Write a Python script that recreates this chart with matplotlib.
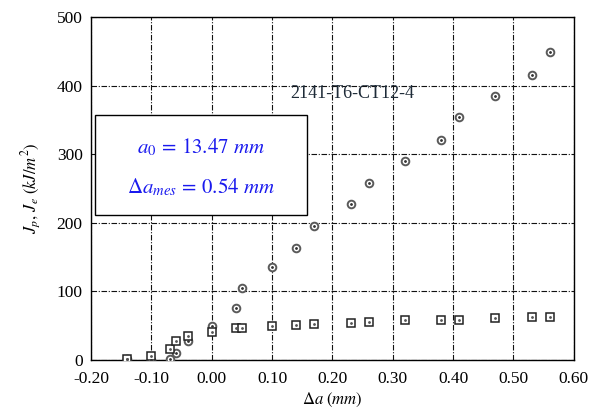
import matplotlib
matplotlib.use("Agg")
import matplotlib.pyplot as plt
from matplotlib.patches import Rectangle

plt.rcParams['mathtext.fontset'] = 'stix'
plt.rcParams['font.family'] = ['Liberation Serif', 'DejaVu Serif']

delta_a = [-0.14, -0.10, -0.07, -0.06, -0.04, 0.00, 0.04, 0.05, 0.10, 0.14,
           0.17, 0.23, 0.26, 0.32, 0.38, 0.41, 0.47, 0.53, 0.56]
J_p = [1, 0, 2, 10, 27, 50, 76, 105, 135, 164, 196, 227, 258, 290, 321, 354, 385, 416, 449]
J_e = [1, 6, 16, 27, 35, 41, 46, 47, 50, 51, 53, 54, 56, 58, 59, 59, 61, 62, 62]
x_ticks = [-0.20, -0.10, 0.00, 0.10, 0.20, 0.30, 0.40, 0.50, 0.60]
x_tick_labels = ["-0.20", "-0.10", "0.00", "0.10", "0.20", "0.30", "0.40", "0.50", "0.60"]
y_ticks = [0, 100, 200, 300, 400, 500]

fig = plt.figure(figsize=(5.99, 4.15), dpi=100)
ax = fig.add_axes([0.152, 0.1325, 0.806, 0.8265])

ax.set_xlim(-0.20, 0.60)
ax.set_ylim(0, 500)
ax.set_xticks(x_ticks)
ax.set_xticklabels(x_tick_labels)
ax.set_yticks(y_ticks)
ax.tick_params(length=0, labelsize=12.5)
ax.tick_params(axis='x', pad=8)
ax.tick_params(axis='y', pad=6)
ax.grid(True, color='#111111', linestyle=(0, (5, 1.5, 1, 1.5)), linewidth=0.8)
for s in ax.spines.values():
    s.set_linewidth(1.0)

ax.plot(delta_a, J_p, linestyle='none', marker='o', markersize=5.5,
        markerfacecolor='white', markeredgecolor='#5a5a5a', markeredgewidth=1.4, zorder=3)
ax.plot(delta_a, J_p, linestyle='none', marker='.', markersize=2, color='#333333', zorder=4)
ax.plot(delta_a, J_e, linestyle='none', marker='s', markersize=5.5,
        markerfacecolor='white', markeredgecolor='#222222', markeredgewidth=1.1, zorder=3)
ax.plot(delta_a, J_e, linestyle='none', marker='.', markersize=2, color='#555555', zorder=4)

ax.text(0.232, 388, "2141-T6-CT12-4", fontsize=13, color='#1e2b38',
        ha='center', va='center', zorder=5)

rect = Rectangle((0.008, 0.423), 0.439, 0.291, transform=ax.transAxes,
                 facecolor='white', edgecolor='black', linewidth=1.0, zorder=6)
ax.add_patch(rect)
ax.text(0.227, 0.619, r"$a_0\,=\,13.47\ mm$", transform=ax.transAxes,
        fontsize=15, color='#1a1aee', ha='center', va='center', zorder=7)
ax.text(0.227, 0.502, r"$\Delta a_{mes}\,=\,0.54\ mm$", transform=ax.transAxes,
        fontsize=15, color='#1a1aee', ha='center', va='center', zorder=7)

ax.set_xlabel(r"$\Delta a\ (mm)$", fontsize=12, labelpad=3)
ax.set_ylabel(r"$J_p,\,J_e\ (kJ/m^2)$", fontsize=12, labelpad=10)

fig.savefig("out.png", dpi=100)
